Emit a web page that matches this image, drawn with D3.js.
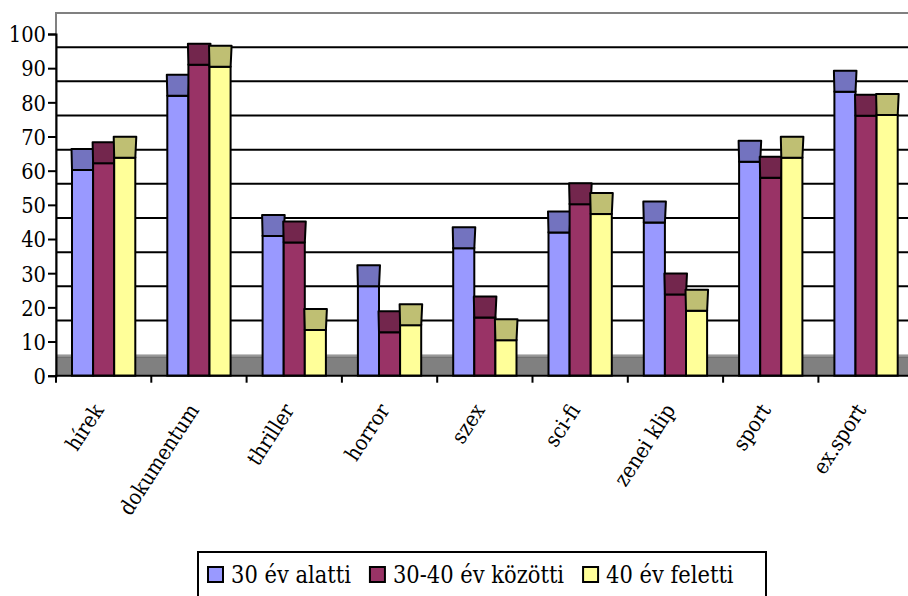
<!DOCTYPE html>
<html>
<head>
<meta charset="utf-8">
<script src="https://cdn.jsdelivr.net/npm/d3@7"></script>
<style>
  html, body { margin: 0; padding: 0; background: #fff; }
  svg { display: block; }
  svg text { font-stretch: condensed; }
</style>
</head>
<body>
<svg id="chart" width="908" height="596"></svg>
<script>
// Categories (TV programme types) and the three age groups
const categories = ["hírek", "dokumentum", "thriller", "horror", "szex", "sci-fi", "zenei klip", "sport", "ex.sport"];
const seriesNames = ["30 év alatti", "30-40 év közötti", "40 év feletti"];

// Percentages per age group
const under30    = [60.2, 81.9, 40.9, 26.2, 37.3, 41.9, 44.8, 62.6, 83.1];
const from30to40 = [62.2, 91.0, 39.0, 12.7, 17.0, 50.2, 23.8, 57.9, 76.1];
const over40     = [63.8, 90.4, 13.4, 14.8, 10.4, 47.3, 19.0, 63.8, 76.3];

const yTicks = [0, 10, 20, 30, 40, 50, 60, 70, 80, 90, 100];

const frontColors = ["#9999FF", "#993366", "#FFFF99"];
const topColors   = ["#7373BF", "#73264D", "#BFBF73"];

const seriesValues = [under30, from30to40, over40];

const svg = d3.select("#chart");
const FONT = "'DejaVu Serif', serif";

// Scale factor so the serif face takes the width of Times-style text
const probe = svg.append("text").attr("font-family", FONT).attr("font-size", 100).text("30 év alatti");
const fontRatio = Math.min(1, (4.444 * 100) / probe.node().getComputedTextLength());
probe.remove();
const fs = px => px * fontRatio;

// Layout of the pseudo-3D plot
const x0 = 56, bandW = 95.3, yBase = 375.7, yTop = 34, depth = 21;

const x = d3.scaleBand().domain(categories).range([x0, x0 + bandW * categories.length]).padding(0);
const xs = d3.scaleBand().domain(seriesNames).range([16, x.bandwidth() - 16]).padding(0);
const y = d3.scaleLinear().domain([0, 100]).range([yBase, yTop]);
const xRight = x.range()[1];

// Floor (gray band between back wall and front plane)
svg.append("rect")
  .attr("x", x0).attr("y", y(0) - depth)
  .attr("width", xRight - x0).attr("height", depth)
  .attr("fill", "#808080");
svg.append("line")
  .attr("x1", x0).attr("x2", xRight)
  .attr("y1", y(0) - depth + 2.5).attr("y2", y(0) - depth + 2.5)
  .attr("stroke", "#6a6a6a").attr("stroke-width", 1);
svg.append("rect")
  .attr("x", x0).attr("y", y(0) - depth)
  .attr("width", xRight - x0).attr("height", 2)
  .attr("fill", "#999");

// Back wall gridlines
svg.append("g").selectAll("line")
  .data(yTicks.filter(v => v > 0 && v < 100))
  .join("line")
  .attr("x1", x0 + 1).attr("x2", xRight)
  .attr("y1", v => y(v) - depth).attr("y2", v => y(v) - depth)
  .attr("stroke", "#000").attr("stroke-width", 2);

// Back wall outline (top edge and upper left edge)
svg.append("path")
  .attr("d", `M${x0},${y(0)} L${x0},${y(100) - depth} L${xRight},${y(100) - depth}`)
  .attr("fill", "none").attr("stroke", "#808080").attr("stroke-width", 2);

// Bars: front face plus top face
const barData = [];
categories.forEach((c, i) => {
  seriesNames.forEach((s, j) => {
    barData.push({ c, s, j, v: seriesValues[j][i] });
  });
});

const bars = svg.append("g").selectAll("g").data(barData).join("g");
bars.each(function(d) {
  const g = d3.select(this);
  const bx = x(d.c) + xs(d.s);
  const bw = xs.bandwidth();
  const yf = y(d.v);
  g.append("rect")
    .attr("x", bx).attr("y", yf)
    .attr("width", bw).attr("height", y(0) - yf)
    .attr("fill", frontColors[d.j])
    .attr("stroke", "#000").attr("stroke-width", 2);
  g.append("path")
    .attr("d", `M${bx},${yf} L${bx - 0.5},${yf - depth} L${bx + bw + 1},${yf - depth} L${bx + bw},${yf} Z`)
    .attr("fill", topColors[d.j])
    .attr("stroke", "#000").attr("stroke-width", 2)
    .attr("stroke-linejoin", "round");
});

// Value axis
const yAxis = d3.axisLeft(y).tickValues(yTicks).tickSize(8).tickPadding(2).tickFormat(d3.format("d"));
const gy = svg.append("g").attr("transform", `translate(${x0},0)`).call(yAxis);
gy.attr("font-family", FONT).attr("font-size", fs(25));
gy.select(".domain").attr("stroke", "#000").attr("stroke-width", 2);
gy.selectAll(".tick line").attr("stroke", "#000").attr("stroke-width", 2);
gy.selectAll(".tick text")
  .attr("fill", "#000")
  .attr("dy", "0.36em");

// Category axis line and tick marks at band boundaries
svg.append("line")
  .attr("x1", x0 - 1).attr("x2", xRight)
  .attr("y1", y(0)).attr("y2", y(0))
  .attr("stroke", "#000").attr("stroke-width", 2);
svg.append("g").selectAll("line")
  .data(d3.range(categories.length + 1))
  .join("line")
  .attr("x1", i => x0 + i * x.step()).attr("x2", i => x0 + i * x.step())
  .attr("y1", y(0)).attr("y2", y(0) + 7)
  .attr("stroke", "#000").attr("stroke-width", 2);

// Rotated category labels
svg.append("g").selectAll("text")
  .data(categories)
  .join("text")
  .attr("transform", c => `translate(${x(c) + x.bandwidth() / 2 - 12},${y(0) + 26}) rotate(-57)`)
  .attr("text-anchor", "end")
  .attr("dy", "0.72em")
  .attr("font-family", FONT)
  .attr("font-size", fs(24.5))
  .text(c => c);

// Legend
const legend = svg.append("g");
legend.append("rect")
  .attr("x", 198).attr("y", 552).attr("width", 568).attr("height", 60)
  .attr("fill", "#fff").attr("stroke", "#000").attr("stroke-width", 2);
let lx = 208;
seriesNames.forEach((s, j) => {
  legend.append("rect")
    .attr("x", lx).attr("y", 567).attr("width", 15).attr("height", 15)
    .attr("fill", frontColors[j]).attr("stroke", "#000").attr("stroke-width", 2);
  const t = legend.append("text")
    .attr("x", lx + 23).attr("y", 583)
    .attr("font-family", FONT)
    .attr("font-size", fs(27))
    .text(s);
  lx += 23 + t.node().getComputedTextLength() + 19;
});
</script>
</body>
</html>
